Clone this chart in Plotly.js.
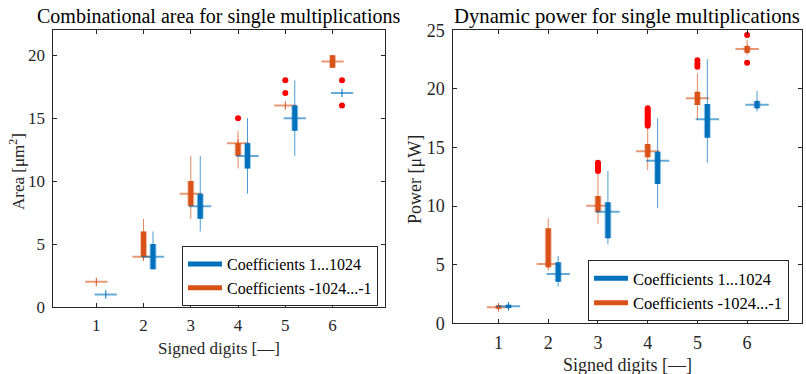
<!DOCTYPE html>
<html>
<head>
<meta charset="utf-8">
<script src="https://cdn.plot.ly/plotly-3.0.1.min.js"></script>
<style>html,body{margin:0;padding:0;background:#fff;}#chart{width:806px;height:374px;}</style>
</head>
<body>
<div id="chart"></div>
<script>
// ---------------- DATA ----------------
const groups = [1, 2, 3, 4, 5, 6];
const xTickLabels = ['1', '2', '3', '4', '5', '6'];
const seriesNames = ['Coefficients 1...1024', 'Coefficients -1024...-1'];

// Area [um^2] — Coefficients 1...1024 (blue)
const areaBlueLo  = [1, 3, 6, 9, 12, 17];
const areaBlueQ1  = [1, 3, 7, 11, 14, 17];
const areaBlueMed = [1, 4, 8, 12, 15, 17];
const areaBlueQ3  = [1, 5, 9, 13, 16, 17];
const areaBlueHi  = [1, 6, 12, 15, 18, 17];
const areaBlueOut = [[], [], [], [], [], [16, 18]];
// Area — Coefficients -1024...-1 (orange)
const areaOrLo  = [2, 4, 7, 11, 16, 19];
const areaOrQ1  = [2, 4, 8, 12, 16, 19];
const areaOrMed = [2, 4, 9, 13, 16, 19.5];
const areaOrQ3  = [2, 6, 10, 13, 16, 20];
const areaOrHi  = [2, 7, 12, 14, 16, 20];
const areaOrOut = [[], [], [], [15], [17, 18], []];

// Power [uW] — Coefficients 1...1024 (blue)
const powBlueLo  = [1.25, 3.12, 6.74, 9.81, 13.7, 18.06];
const powBlueQ1  = [1.31, 3.55, 7.25, 11.89, 15.84, 18.34];
const powBlueMed = [1.45, 4.2, 9.52, 13.88, 17.41, 18.65];
const powBlueQ3  = [1.59, 5.2, 10.32, 14.64, 18.71, 18.97];
const powBlueHi  = [1.76, 5.74, 13.0, 17.49, 22.53, 19.82];
const powBlueOut = [[], [], [], [], [], []];
// Power — Coefficients -1024...-1 (orange)
const powOrLo  = [1.08, 4.5, 8.47, 13.08, 17.4, 22.9];
const powOrQ1  = [1.25, 4.78, 9.47, 14.16, 18.63, 23.09];
const powOrMed = [1.36, 5.06, 10.04, 14.67, 19.2, 23.4];
const powOrQ3  = [1.53, 8.1, 10.86, 15.3, 19.76, 23.66];
const powOrHi  = [1.7, 8.96, 12.85, 16.7, 21.33, 24.17];
const powOrOut = [[], [], [13.0, 13.1, 13.2, 13.3, 13.4, 13.5, 13.6, 13.7],
                  [16.85, 17.0, 17.15, 17.3, 17.45, 17.6, 17.75, 17.9, 18.05, 18.2, 18.35],
                  [21.9, 22.15, 22.45], [22.24, 24.6]];

// ---------------- STYLE ----------------
const BLUE = '#0072BD', ORANGE = '#D95319';
const FONT = '"Liberation Serif", "Times New Roman", Times, serif';
const TXT = '#262626';

function rgba(hex, a) {
  const r = parseInt(hex.slice(1, 3), 16), g = parseInt(hex.slice(3, 5), 16), b = parseInt(hex.slice(5, 7), 16);
  return `rgba(${r},${g},${b},${a})`;
}

function seriesTraces(s, xa, ya, legendId, showLegend) {
  const pos = groups.map(g => g + s.offset);
  const wx = [], wy = [], bx = [], by = [], mx = [], my = [], ox = [], oy = [];
  pos.forEach((p, i) => {
    wx.push(p, p, null); wy.push(s.lo[i], s.hi[i], null);
    bx.push(p, p, null); by.push(s.q1[i], s.q3[i], null);
    mx.push(p - 0.235, p + 0.235, null); my.push(s.med[i], s.med[i], null);
    s.out[i].forEach(v => { ox.push(p); oy.push(v); });
  });
  const common = {xaxis: xa, yaxis: ya, type: 'scatter', hoverinfo: 'skip', legend: legendId};
  return [
    Object.assign({}, common, {x: wx, y: wy, mode: 'lines', line: {color: rgba(s.color, 0.7), width: 1}, showlegend: false}),
    Object.assign({}, common, {x: bx, y: by, mode: 'lines', line: {color: rgba(s.color, 0.35), width: 7}, showlegend: false}),
    Object.assign({}, common, {x: bx, y: by, mode: 'lines', line: {color: s.color, width: 5}, name: s.name, showlegend: showLegend}),
    Object.assign({}, common, {x: mx, y: my, mode: 'lines', line: {color: rgba(s.color, 0.6), width: 2}, showlegend: false}),
    Object.assign({}, common, {x: pos, y: s.med, mode: 'markers', marker: {symbol: 'line-ns', size: 6, line: {color: s.color, width: 1}}, showlegend: false}),
    Object.assign({}, common, {x: ox, y: oy, mode: 'markers', marker: {symbol: 'circle', size: 6, color: '#FF0000'}, showlegend: false})
  ];
}

const areaBlue = {name: seriesNames[0], color: BLUE, offset: 0.2, lo: areaBlueLo, q1: areaBlueQ1, med: areaBlueMed, q3: areaBlueQ3, hi: areaBlueHi, out: areaBlueOut};
const areaOr = {name: seriesNames[1], color: ORANGE, offset: 0, lo: areaOrLo, q1: areaOrQ1, med: areaOrMed, q3: areaOrQ3, hi: areaOrHi, out: areaOrOut};
const powBlue = {name: seriesNames[0], color: BLUE, offset: 0.2, lo: powBlueLo, q1: powBlueQ1, med: powBlueMed, q3: powBlueQ3, hi: powBlueHi, out: powBlueOut};
const powOr = {name: seriesNames[1], color: ORANGE, offset: 0, lo: powOrLo, q1: powOrQ1, med: powOrMed, q3: powOrQ3, hi: powOrHi, out: powOrOut};

const tA_blue = seriesTraces(areaBlue, 'x', 'y', 'legend', true);
const tA_or = seriesTraces(areaOr, 'x', 'y', 'legend', true);
const tP_blue = seriesTraces(powBlue, 'x2', 'y2', 'legend2', true);
const tP_or = seriesTraces(powOr, 'x2', 'y2', 'legend2', true);
const data = [].concat(tA_or, tA_blue, tP_or, tP_blue);
data.forEach(t => { if (t.showlegend) t.legendrank = (t.name === seriesNames[0]) ? 1 : 2; });

const W = 806, H = 374;
const px = v => v / W, py = v => 1 - v / H;

function xAxis(domain, anchor, size) {
  return {domain: domain, anchor: anchor, range: [0.09, 7.11], tickvals: groups, ticktext: xTickLabels,
    ticks: 'inside', ticklen: 4, tickcolor: TXT, mirror: 'ticks', showline: true, linecolor: TXT, linewidth: 1,
    showgrid: false, zeroline: false, tickfont: {family: FONT, size: size, color: TXT}, ticklabelstandoff: 3, fixedrange: true};
}
function yAxis(domain, anchor, range, tv, size) {
  return {domain: domain, anchor: anchor, range: range, tickvals: tv,
    ticks: 'inside', ticklen: 4, tickcolor: TXT, mirror: 'ticks', showline: true, linecolor: TXT, linewidth: 1,
    showgrid: false, zeroline: false, tickfont: {family: FONT, size: size, color: TXT}, ticklabelstandoff: 4, fixedrange: true};
}

const layout = {
  width: W, height: H, margin: {l: 0, r: 0, t: 0, b: 0}, paper_bgcolor: '#fff', plot_bgcolor: '#fff',
  font: {family: FONT, color: TXT},
  xaxis: xAxis([px(53.3), px(385)], 'y', 17),
  yaxis: yAxis([py(307), py(30)], 'x', [0, 22], [0, 5, 10, 15, 20], 17),
  xaxis2: xAxis([px(453.3), px(802.3)], 'y2', 18),
  yaxis2: yAxis([py(323.3), py(30.3)], 'x2', [0, 25], [0, 5, 10, 15, 20, 25], 18),
  legend: {x: px(182), y: py(276), xanchor: 'left', yanchor: 'middle', bgcolor: '#fff', bordercolor: TXT, borderwidth: 1,
    font: {family: FONT, size: 16, color: '#000'}, itemwidth: 34, tracegroupgap: 0},
  legend2: {x: px(588), y: py(290.5), xanchor: 'left', yanchor: 'middle', bgcolor: '#fff', bordercolor: TXT, borderwidth: 1,
    font: {family: FONT, size: 16.5, color: '#000'}, itemwidth: 34, tracegroupgap: 0},
  annotations: [
    {text: 'Combinational area for single multiplications', xref: 'paper', yref: 'paper', x: px(218), y: py(16.5), xanchor: 'center', yanchor: 'middle', showarrow: false, font: {family: FONT, size: 20, color: '#000'}},
    {text: 'Dynamic power for single multiplications', xref: 'paper', yref: 'paper', x: px(627), y: py(16.5), xanchor: 'center', yanchor: 'middle', showarrow: false, font: {family: FONT, size: 20.7, color: '#000'}},
    {text: 'Signed digits [—]', xref: 'paper', yref: 'paper', x: px(219), y: py(348), xanchor: 'center', yanchor: 'middle', showarrow: false, font: {family: FONT, size: 17, color: TXT}},
    {text: 'Signed digits [—]', xref: 'paper', yref: 'paper', x: px(627), y: py(365), xanchor: 'center', yanchor: 'middle', showarrow: false, font: {family: FONT, size: 18, color: TXT}},
    {text: 'Area [μm<sup>2</sup>]', xref: 'paper', yref: 'paper', x: px(17), y: py(172), xanchor: 'center', yanchor: 'middle', textangle: -90, showarrow: false, font: {family: FONT, size: 17, color: TXT}},
    {text: 'Power [μW]', xref: 'paper', yref: 'paper', x: px(415), y: py(180), xanchor: 'center', yanchor: 'middle', textangle: -90, showarrow: false, font: {family: FONT, size: 18, color: TXT}}
  ]
};

Plotly.newPlot('chart', data, layout, {displayModeBar: false, staticPlot: true});
</script>
</body>
</html>
